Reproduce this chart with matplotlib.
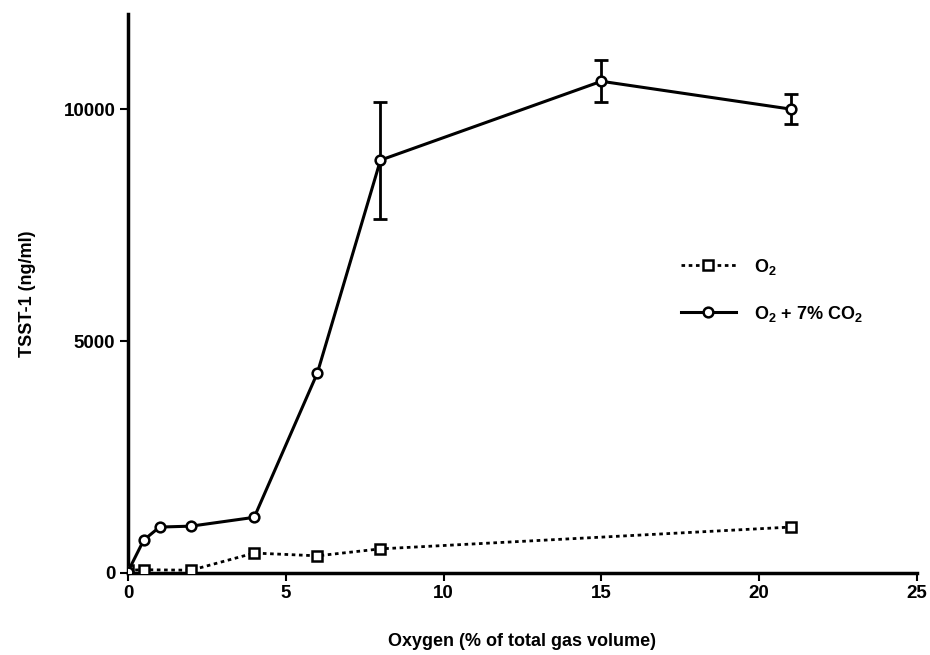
import matplotlib
matplotlib.use("Agg")
import matplotlib.pyplot as plt
from matplotlib.lines import Line2D

# data
x_o2 = [0, 0.5, 2, 4, 6, 8, 21]
tsst_o2 = [60, 70, 60, 430, 370, 520, 990]

x_co2 = [0, 0.5, 1, 2, 4, 6, 8, 15, 21]
tsst_co2 = [30, 710, 990, 1010, 1200, 4310, 8900, 10600, 10000]
err_co2 = [0, 0, 0, 0, 0, 0, 1260, 450, 330]

xticks = [0, 5, 10, 15, 20, 25]
yticks = [0, 5000, 10000]

plt.rcParams["font.family"] = ["Liberation Sans", "DejaVu Sans"]
plt.rcParams["font.weight"] = "bold"
plt.rcParams["mathtext.fontset"] = "custom"
plt.rcParams["mathtext.rm"] = "Liberation Sans:bold"
plt.rcParams["mathtext.default"] = "rm"

fig = plt.figure(figsize=(9.3, 6.55), dpi=100)
ax = fig.add_axes([0.1376, 0.1252, 0.8484, 0.8534])

o2_style = dict(linestyle=(0, (1.3, 1.3)), color="black", lw=2, marker="s",
                ms=7, mfc="white", mec="black", mew=1.8)
co2_style = dict(linestyle="-", color="black", lw=2.2, marker="o",
                 ms=7, mfc="white", mec="black", mew=1.8)

# O2 only, dotted line with squares
ax.plot(x_o2, tsst_o2, zorder=3, **o2_style)

# O2 + 7% CO2, solid line with circles
ax.plot(x_co2, tsst_co2, zorder=4, **co2_style)

# error bars only where an SD was drawn
idx = [i for i, e in enumerate(err_co2) if e > 0]
ax.errorbar([x_co2[i] for i in idx], [tsst_co2[i] for i in idx],
            yerr=[err_co2[i] for i in idx], fmt="none", ecolor="black",
            elinewidth=2, capsize=5, capthick=2, zorder=3.5)

ax.set_xlim(0, 25)
ax.set_ylim(0, 12050)
ax.set_xticks(xticks)
ax.set_yticks(yticks)
ax.tick_params(direction="out", length=6, width=1.5, labelsize=13.5, pad=3)
for lab in ax.get_xticklabels() + ax.get_yticklabels():
    lab.set_fontweight("bold")

for side in ["top", "right"]:
    ax.spines[side].set_visible(False)
for side in ["left", "bottom"]:
    ax.spines[side].set_linewidth(2.5)

ax.set_xlabel("Oxygen (% of total gas volume)", fontsize=13, fontweight="bold",
              labelpad=22)
ax.set_ylabel("TSST-1 (ng/ml)", fontsize=13, fontweight="bold", labelpad=20)

handles = [Line2D([], [], **o2_style), Line2D([], [], **co2_style)]
labels = ["O$_2$", "O$_2$ + 7% CO$_2$"]
ax.legend(handles, labels, loc="upper left", bbox_to_anchor=(0.68, 0.595),
          frameon=False, fontsize=13, handlelength=3.05, labelspacing=1.5,
          handletextpad=1.0)

fig.savefig("out.png", dpi=100)
